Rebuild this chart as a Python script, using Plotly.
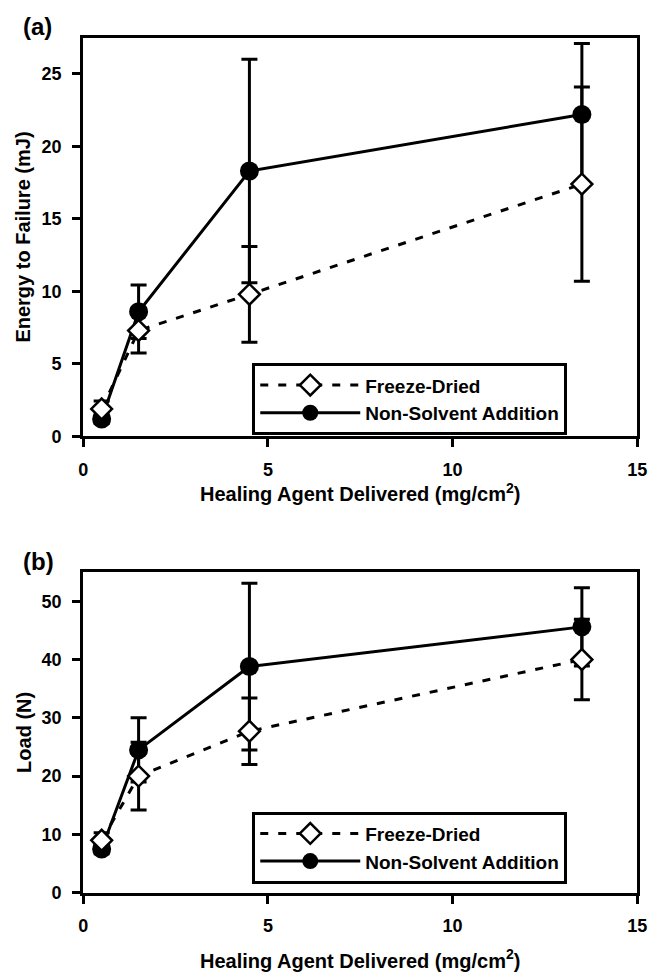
import plotly.graph_objects as go

# ---- data ----
x_vals = [0.5, 1.5, 4.5, 13.5]

# (a) Energy to Failure (mJ)
a_fd_y = [1.9, 7.3, 9.8, 17.4]
a_fd_err = [0.55, 1.55, 3.3, 6.7]
a_nsa_y = [1.2, 8.6, 18.3, 22.2]
a_nsa_err = [0.3, 1.85, 7.7, 4.9]

# (b) Load (N)
b_fd_y = [9.0, 20.0, 27.7, 40.0]
b_fd_err = [1.3, 5.8, 5.7, 6.9]
b_nsa_y = [7.5, 24.5, 38.8, 45.6]
b_nsa_err = [0.8, 5.5, 14.3, 6.7]

x_ticks = [0, 5, 10, 15]
a_ticks = [0, 5, 10, 15, 20, 25]
b_ticks = [0, 10, 20, 30, 40, 50]

FONT = "Liberation Sans, Arial, sans-serif"

fig = go.Figure()


def add_pair(xa, ya, legend, fd_y, fd_err, nsa_y, nsa_err):
    fig.add_trace(go.Scatter(
        x=x_vals, y=nsa_y, xaxis=xa, yaxis=ya, legend=legend,
        name="Non-Solvent Addition", mode="lines+markers",
        line=dict(color="black", width=3),
        marker=dict(symbol="circle", size=19, color="black",
                    line=dict(color="black", width=0)),
        error_y=dict(type="data", array=nsa_err, visible=True,
                     color="black", thickness=3, width=8),
        cliponaxis=False, legendrank=2,
    ))
    fig.add_trace(go.Scatter(
        x=x_vals, y=fd_y, xaxis=xa, yaxis=ya, legend=legend,
        name="Freeze-Dried", mode="lines+markers",
        line=dict(color="black", width=3, dash="8px,10px"),
        marker=dict(symbol="diamond", size=16, color="white",
                    line=dict(color="black", width=2.5)),
        error_y=dict(type="data", array=fd_err, visible=True,
                     color="black", thickness=3, width=8),
        cliponaxis=False, legendrank=1,
    ))


add_pair("x", "y", "legend", a_fd_y, a_fd_err, a_nsa_y, a_nsa_err)
add_pair("x2", "y2", "legend2", b_fd_y, b_fd_err, b_nsa_y, b_nsa_err)

W, H = 660, 973
xdom = [80 / W, 647 / W]

axis_common = dict(
    showline=True, linecolor="black", linewidth=3, mirror=True,
    ticks="outside", ticklen=8, tickwidth=3, tickcolor="black",
    showgrid=False, zeroline=False, ticklabelstandoff=7,
    tickfont=dict(family=FONT, size=18, color="black", weight="bold"),
)

xtitle = "Healing Agent Delivered (mg/cm<sup>2</sup>)"
title_font = dict(family=FONT, size=20, color="black", weight="bold")

legend_common = dict(
    bgcolor="white", bordercolor="black", borderwidth=3,
    font=dict(family=FONT, size=19, color="black", weight="bold"),
    xanchor="left", yanchor="top", itemwidth=100,
    traceorder="normal", tracegroupgap=0,
)

fig.update_layout(
    width=W, height=H,
    margin=dict(l=0, r=0, t=0, b=0),
    paper_bgcolor="white", plot_bgcolor="white",
    showlegend=True,
    xaxis=dict(domain=xdom, range=[0, 15], tickvals=x_ticks, anchor="y",
               title=dict(text=xtitle, font=title_font, standoff=5), **axis_common),
    yaxis=dict(domain=[1 - 441 / H, 1 - 38 / H], range=[0, 27.5], tickvals=a_ticks,
               anchor="x",
               title=dict(text="Energy to Failure (mJ)", font=title_font, standoff=6),
               **axis_common),
    xaxis2=dict(domain=xdom, range=[0, 15], tickvals=x_ticks, anchor="y2",
                title=dict(text=xtitle, font=title_font, standoff=19), **axis_common),
    yaxis2=dict(domain=[1 - 902 / H, 1 - 578 / H], range=[0, 55], tickvals=b_ticks,
                anchor="x2",
                title=dict(text="Load (N)", font=title_font, standoff=5),
                **axis_common),
    legend=dict(x=253 / W, y=1 - 367 / H, **legend_common),
    legend2=dict(x=253 / W, y=1 - 820 / H, **legend_common),
    annotations=[
        dict(text="(a)", x=16 / W, y=1 - 11 / H, xref="paper", yref="paper",
             xanchor="left", yanchor="top", showarrow=False,
             font=dict(family=FONT, size=24, color="black", weight="bold")),
        dict(text="(b)", x=16 / W, y=1 - 552 / H, xref="paper", yref="paper",
             xanchor="left", yanchor="top", showarrow=False,
             font=dict(family=FONT, size=24, color="black", weight="bold")),
    ],
)

fig.write_html("out.html")
